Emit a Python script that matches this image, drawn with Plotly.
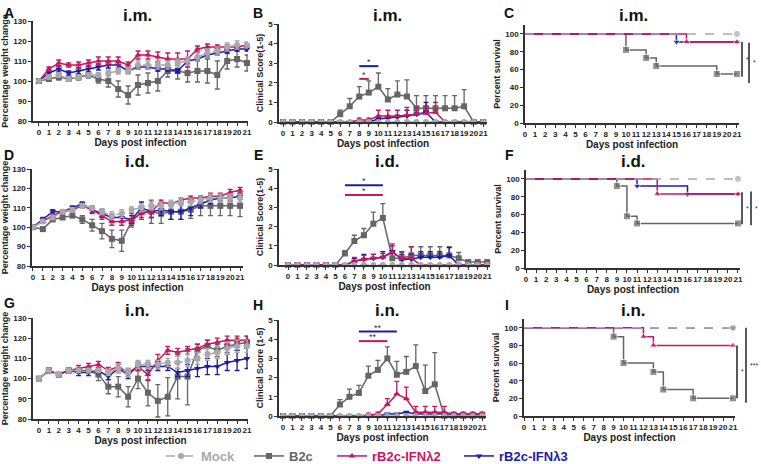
import plotly.graph_objects as go

W, H = 761, 464
FONT = "Liberation Sans"
days = list(range(22))

C_MOCK = "#a9a9ad"
C_B2C = "#656565"
C_L2 = "#c8175d"
C_L3 = "#1c1caa"

# ---------------- weight data (A: i.m., D: i.d., G: i.n.) ----------------
A_mock = [100, 102, 103, 101, 102, 103, 103, 104, 105, 105, 108, 108, 108, 108, 109, 110, 112, 114, 115, 117, 118, 118]
A_mock_err = [0, 1, 1, 1, 1, 1, 1, 1.5, 1.5, 1.5, 2, 2, 2, 2, 2, 2, 2, 2, 2, 2, 2, 1.5]
A_b2c = [100, 101, 102, 101, 102, 103, 101, 100, 96, 93, 98, 99, 100, 105, 105, 104, 105, 105, 103, 110, 111, 109]
A_b2c_err = [0, 1, 1.5, 1, 1.5, 1.5, 2, 3, 4, 4.5, 5, 5, 5, 3, 4, 4.5, 5.5, 6, 7, 4, 4, 4]
A_l2 = [100, 106, 109, 108, 108, 109, 110, 110, 110, 108, 113, 113, 112, 111, 111, 111, 116, 117, 117, 117, 117, 118]
A_l2_err = [0, 1, 1.5, 1, 1.5, 1.5, 2, 2, 2, 1.5, 2, 2, 2.5, 3, 3, 4, 1.5, 1.5, 1, 1, 1, 1]
A_l3 = [100, 104, 106, 104, 105, 106, 107, 108, 108, 105, 107, 107, 106, 106, 105, 110, 111, 113, 114, 115, 116, 116]
A_l3_err = [0, 1, 1.5, 1, 1.5, 1.5, 1.5, 1.5, 1.5, 1, 1, 1, 1, 1, 1, 1, 1, 1, 1, 1, 1, 1]

D_mock = [100, 103, 105, 108, 109, 111, 110, 108, 106, 107, 109, 110, 111, 111, 112, 113, 113, 114, 115, 115, 115, 115]
D_mock_err = [0, 1, 1, 1, 1, 1, 1, 1.5, 2, 2, 1.5, 2, 2, 2, 2, 2, 2, 2, 2, 2, 2, 2]
D_b2c = [100, 99, 104, 105, 106, 104, 101, 98, 94, 93, 103, 108, 108, 107, 108, 108, 109, 111, 111, 111, 111, 111]
D_b2c_err = [0, 1, 1, 1, 1, 2, 3, 4, 4.5, 5.5, 3, 3, 6, 5, 4, 4, 4.5, 5, 5, 5, 5, 5.5]
D_l2 = [100, 103, 106, 108, 109, 111, 109, 106, 103, 103, 104, 107, 108, 113, 112, 114, 115, 115, 116, 116, 118, 119]
D_l2_err = [0, 1, 1, 1, 1, 1, 2, 2, 2, 2, 3, 3, 3, 1, 1, 1, 1, 1, 1.5, 1.5, 1.5, 1.5]
D_l3 = [100, 104, 108, 108, 110, 112, 109, 107, 105, 105, 104, 110, 108, 109, 108, 108, 110, 112, 114, 115, 115, 116]
D_l3_err = [0, 1, 1, 1, 1, 1, 1.5, 2, 2, 2, 2, 3, 3, 3, 4, 4, 4, 2, 2, 1.5, 1.5, 1.5]

G_mock = [100, 104, 102, 104, 104, 104, 104, 103, 105, 103, 107, 107, 107, 108, 108, 109, 110, 112, 113, 115, 116, 116]
G_mock_err = [0, 1, 1, 1, 1, 1, 1, 1.5, 2, 2, 2, 2, 2, 2, 3, 3, 3, 3, 3, 3, 3, 3]
G_b2c = [100, 104, 102, 104, 104, 104, 102, 96, 96, 91, 100, 93, 89, 91, 101, 101, 114, 116, 114, 116, 117, 118]
G_b2c_err = [0, 1, 1, 1, 1, 1, 3, 3.5, 5, 5, 5, 6.5, 8, 9.5, 11, 14, 3, 3, 3, 3, 3, 3]
G_l2 = [100, 104, 102, 104, 105, 106, 107, 104, 106, 103, 106, 102, 109, 114, 113, 114, 115, 117, 118, 119, 119, 119]
G_l2_err = [0, 1, 1, 1, 1.5, 1.5, 1.5, 1.5, 2, 2, 2, 3, 3, 2, 2, 2, 2, 2, 2, 2, 2, 2]
G_l3 = [100, 104, 102, 104, 103, 103, 104, 101, 105, 102, 106, 106, 106, 106, 103, 104, 105, 106, 106, 108, 109, 110]
G_l3_err = [0, 1, 1, 1, 1.5, 1.5, 1.5, 1.5, 2, 2, 2, 2, 2, 2, 2, 3, 4, 4, 4, 4, 5, 5]

# ---------------- clinical score data (B, E, H) ----------------
B_mock = [0] * 22
B_b2c = [0, 0, 0, 0, 0, 0, 0.4, 0.8, 1.3, 1.5, 1.8, 1.15, 1.4, 1.3, 0.7, 0.7, 0.7, 0.7, 0.7, 0.8, 0, 0]
B_b2c_err = [0, 0, 0, 0, 0, 0, 0.2, 0.4, 0.5, 0.6, 0.7, 0.55, 0.7, 0.85, 0.65, 0.65, 0.65, 0.65, 0.65, 0.85, 0, 0]
B_l2 = [0, 0, 0, 0, 0, 0, 0, 0, 0.1, 0.1, 0.3, 0.3, 0.3, 0.35, 0.4, 0.45, 0.5, 0, 0, 0, 0, 0]
B_l2_err = [0, 0, 0, 0, 0, 0, 0, 0, 0.1, 0.1, 0.3, 0.3, 0.3, 0.4, 0.35, 0.35, 0.5, 0, 0, 0, 0, 0]
B_l3 = [0, 0, 0, 0, 0, 0, 0, 0, 0, 0, 0.15, 0.2, 0.25, 0.3, 0.4, 0.5, 0, 0, 0, 0, 0, 0]
B_l3_err = [0, 0, 0, 0, 0, 0, 0, 0, 0, 0, 0.1, 0.1, 0.1, 0.3, 0.1, 0.5, 0, 0, 0, 0, 0, 0]

E_mock = [0] * 22
E_b2c = [0, 0, 0, 0, 0, 0, 0.6, 1.25, 1.55, 2.15, 2.45, 0.35, 0.35, 0.5, 0.5, 0.5, 0.5, 0.5, 0.35, 0.15, 0.15, 0.15]
E_b2c_err = [0, 0, 0, 0, 0, 0, 0.15, 0.3, 0.35, 0.6, 0.75, 0.3, 0.3, 0.45, 0.45, 0.45, 0.45, 0.45, 0.3, 0.1, 0.1, 0.1]
E_l2 = [0, 0, 0, 0, 0, 0, 0, 0.2, 0.3, 0.35, 0.4, 0.65, 0.35, 0.35, 0, 0, 0, 0, 0, 0, 0, 0]
E_l2_err = [0, 0, 0, 0, 0, 0, 0, 0.2, 0.2, 0.2, 0.2, 0.45, 0.35, 0.6, 0, 0, 0, 0, 0, 0, 0, 0]
E_l3 = [0, 0, 0, 0, 0, 0, 0, 0.2, 0.3, 0.35, 0.4, 0.7, 0.3, 0.3, 0.4, 0.4, 0.4, 0.5, 0, 0, 0, 0]
E_l3_err = [0, 0, 0, 0, 0, 0, 0, 0.15, 0.25, 0.2, 0.3, 0.3, 0.25, 0.25, 0.3, 0.3, 0.3, 0.4, 0, 0, 0, 0]

H_mock = [0] * 22
H_b2c = [0, 0, 0, 0, 0, 0, 0.6, 1.0, 1.2, 2.1, 2.4, 3.0, 2.15, 2.3, 2.6, 1.3, 1.65, 0, 0, 0, 0, 0]
H_b2c_err = [0, 0, 0, 0, 0, 0, 0.25, 0.4, 0.4, 0.5, 0.5, 0.6, 0.7, 0.8, 1.1, 1.35, 1.65, 0, 0, 0, 0, 0]
H_l2 = [0, 0, 0, 0, 0, 0, 0, 0, 0, 0.05, 0.1, 0.6, 1.15, 0.9, 0.2, 0.2, 0.2, 0.2, 0.1, 0.1, 0.1, 0.1]
H_l2_err = [0, 0, 0, 0, 0, 0, 0, 0, 0, 0.1, 0.1, 0.3, 0.65, 0.6, 0.3, 0.3, 0.3, 0.3, 0.1, 0.1, 0.1, 0.1]
H_l3 = [0, 0, 0, 0, 0, 0, 0, 0, 0, 0, 0, 0.1, 0.1, 0.2, 0.1, 0.1, 0.1, 0.1, 0.1, 0.1, 0.1, 0.1]
H_l3_err = [0] * 22

# ---------------- survival data (C, F, I): event days and % survival ----------------
C_mock_t, C_mock_s = [0, 21], [100, 100]
C_b2c_t, C_b2c_s = [0, 10, 12, 13, 19, 21], [100, 82, 73, 64, 55, 55]
C_l2_t, C_l2_s = [0, 16, 21], [100, 91, 91]
C_l3_t, C_l3_s = [0, 15, 21], [100, 91, 91]

F_mock_t, F_mock_s = [0, 21], [100, 100]
F_b2c_t, F_b2c_s = [0, 9, 10, 11, 21], [100, 92, 58, 50, 50]
F_l2_t, F_l2_s = [0, 13, 21], [100, 83, 83]
F_l3_t, F_l3_s = [0, 11, 16, 21], [100, 92, 83, 83]

I_mock_t, I_mock_s = [0, 21], [100, 100]
I_b2c_t, I_b2c_s = [0, 9, 10, 13, 14, 17, 21], [100, 90, 60, 50, 30, 20, 20]
I_l2_t, I_l2_s = [0, 12, 13, 21], [100, 90, 80, 80]
I_l3_t, I_l3_s = [0, 21], [100, 100]

routes = ["i.m.", "i.d.", "i.n."]
panel_letters = ["A", "B", "C", "D", "E", "F", "G", "H", "I"]
group_names = ["Mock", "B2c", "rB2c-IFNλ2", "rB2c-IFNλ3"]

# ---------------- layout geometry (pixels) ----------------
geom = {
    1: (33, 248, 21, 121, [-0.6, 21.1]),
    2: (279, 487, 24, 122, [-0.42, 21.4]),
    3: (525, 739, 25, 123, [0, 21.2]),
    4: (32, 243, 169, 266, [-0.1, 21.3]),
    5: (279, 490, 169, 265, [-0.95, 21.3]),
    6: (526, 740, 170, 268, [0, 21.2]),
    7: (33, 248, 318, 419, [-0.6, 21.1]),
    8: (279, 486, 320, 416, [-0.42, 21.4]),
    9: (524, 735, 319, 416, [0, 21.2]),
}

fig = go.Figure()

colors = [C_MOCK, C_B2C, C_L2, C_L3]
symbols = ["circle", "square", "triangle-up", "triangle-down"]
legend_ids = ["legend", "legend2", "legend3", "legend4"]


def ax(i):
    return ("x" if i == 1 else f"x{i}"), ("y" if i == 1 else f"y{i}")


def add_series(i, x, y, err, gi, sym_err, first, size=6):
    xa, ya = ax(i)
    e = None
    if err is not None:
        if sym_err:
            e = dict(type="data", array=err, visible=True, color=colors[gi], thickness=1.3, width=2.5)
        else:
            e = dict(type="data", array=err, arrayminus=[0] * len(err), symmetric=False,
                     visible=True, color=colors[gi], thickness=1.3, width=2.5)
    fig.add_trace(go.Scatter(
        x=x, y=y, mode="lines+markers", name=group_names[gi],
        line=dict(color=colors[gi], width=1.5, dash="dash" if gi == 0 else "solid"),
        marker=dict(symbol=symbols[gi], size=size, color=colors[gi]),
        error_y=e, xaxis=xa, yaxis=ya, cliponaxis=False,
        showlegend=first, legend=legend_ids[gi],
    ))


weight = [
    (1, [A_mock, A_b2c, A_l2, A_l3], [A_mock_err, A_b2c_err, A_l2_err, A_l3_err]),
    (4, [D_mock, D_b2c, D_l2, D_l3], [D_mock_err, D_b2c_err, D_l2_err, D_l3_err]),
    (7, [G_mock, G_b2c, G_l2, G_l3], [G_mock_err, G_b2c_err, G_l2_err, G_l3_err]),
]
clin = [
    (2, [B_mock, B_b2c, B_l2, B_l3], [None, B_b2c_err, B_l2_err, B_l3_err]),
    (5, [E_mock, E_b2c, E_l2, E_l3], [None, E_b2c_err, E_l2_err, E_l3_err]),
    (8, [H_mock, H_b2c, H_l2, H_l3], [None, H_b2c_err, H_l2_err, H_l3_err]),
]
surv = [
    (3, [(C_mock_t, C_mock_s), (C_b2c_t, C_b2c_s), (C_l2_t, C_l2_s), (C_l3_t, C_l3_s)]),
    (6, [(F_mock_t, F_mock_s), (F_b2c_t, F_b2c_s), (F_l2_t, F_l2_s), (F_l3_t, F_l3_s)]),
    (9, [(I_mock_t, I_mock_s), (I_b2c_t, I_b2c_s), (I_l2_t, I_l2_s), (I_l3_t, I_l3_s)]),
]

draw_order = [1, 3, 2, 0]
first = True
for i, series, errs in weight:
    for gi in draw_order:
        add_series(i, days, series[gi], errs[gi], gi, True, first)
    first = False
for i, series, errs in clin:
    for gi in draw_order:
        add_series(i, days, series[gi], errs[gi], gi, False, False)
for i, series in surv:
    for gi in draw_order:
        t, s = series[gi]
        xa, ya = ax(i)
        sizes = [0] + [7] * (len(t) - 1)
        fig.add_trace(go.Scatter(
            x=t, y=s, mode="lines+markers", line_shape="hv",
            line=dict(color=colors[gi], width=1.5, dash="dash" if gi == 0 or (i == 9 and gi == 3) else "solid"),
            marker=dict(symbol=symbols[gi], size=sizes, color=colors[gi]),
            xaxis=xa, yaxis=ya, cliponaxis=False, showlegend=False,
        ))

# ---------------- axes ----------------
axis_common = dict(showline=True, linecolor="#333333", linewidth=1.5, ticks="outside",
                   ticklen=3, tickwidth=1.2, tickcolor="#333333", showgrid=False, zeroline=False,
                   automargin=False,
                   tickfont=dict(family=FONT, size=8, color="#222222", weight="bold"))
layout = {}
for i, (x0, x1, y0, y1, xr) in geom.items():
    xk = "xaxis" if i == 1 else f"xaxis{i}"
    yk = "yaxis" if i == 1 else f"yaxis{i}"
    xa, ya = ax(i)
    col = (i - 1) % 3
    if col == 0:
        yr, yt, ytitle = [80, 130], [80, 90, 100, 110, 120, 130], "Percentage weight change"
    elif col == 1:
        yr, yt = [0, 5], [0, 1, 2, 3, 4, 5]
        ytitle = "Clinical Score (1-5)" if i == 8 else "Clinical Score(1-5)"
    else:
        yr, yt, ytitle = [0, 110], [0, 20, 40, 60, 80, 100], "Percent survival"
    layout[xk] = dict(axis_common, domain=[x0 / W, x1 / W], range=xr, anchor=ya,
                      tickvals=days, ticktext=[str(d) for d in days], tickangle=0,
                      title=dict(text="Days post infection", standoff=3,
                                 font=dict(family=FONT, size=10, color="#222222", weight="bold")))
    layout[yk] = dict(axis_common, domain=[1 - y1 / H, 1 - y0 / H], range=yr, anchor=xa,
                      tickvals=yt,
                      title=dict(text=ytitle, standoff=3,
                                 font=dict(family=FONT, size=9, color="#222222", weight="bold")))
fig.update_layout(**layout)

# ---------------- titles and letters ----------------
ann = []
title_pos = [(137, 16), (387, 16), (633, 16), (137, 161), (387, 161), (633, 161), (137, 310), (387, 310), (633, 310)]
letter_pos = [(9, 13), (258, 13), (509, 13), (9, 155), (258, 155), (509, 155), (9, 303), (258, 305), (507, 305)]
for k in range(9):
    tx, ty = title_pos[k]
    ann.append(dict(x=tx / W, y=1 - ty / H, xref="paper", yref="paper", text=routes[k // 3],
                    showarrow=False, font=dict(family=FONT, size=17, color="#111111", weight="bold"),
                    xanchor="center", yanchor="middle"))
    lx, ly = letter_pos[k]
    ann.append(dict(x=lx / W, y=1 - ly / H, xref="paper", yref="paper", text=panel_letters[k],
                    showarrow=False, font=dict(family=FONT, size=14, color="#111111", weight="bold"),
                    xanchor="center", yanchor="middle"))

shapes = []
# clinical significance bars: (panel, x_start, x_end, y, color, label)
clin_sig = [
    (2, 8, 10, 2.85, C_L3, "*"), (2, 8, 9, 2.2, C_L2, "*"),
    (5, 6, 10, 4.15, C_L3, "*"), (5, 6, 10, 3.65, C_L2, "*"),
    (8, 8, 12, 4.4, C_L3, "**"), (8, 8, 11, 3.9, C_L2, "**"),
]
for i, xs, xe, yv, c, lab in clin_sig:
    xa, ya = ax(i)
    shapes.append(dict(type="line", xref=xa, yref=ya, x0=xs, x1=xe, y0=yv, y1=yv,
                       line=dict(color=c, width=2)))
    ann.append(dict(x=(xs + xe) / 2, y=yv, xref=xa, yref=ya, text=lab, showarrow=False,
                    yanchor="bottom", yshift=-3, font=dict(family=FONT, size=9, color="#333333")))

# survival significance bars: (panel, x_pixel, y_top, y_bottom, label)
surv_sig = [
    (3, 742, 91, 52, "*"), (3, 749, 90, 45, "*"),
    (6, 742, 85, 49, "*"), (6, 751, 86, 48, "*"),
    (9, 737, 80, 20, "*"), (9, 746, 100, 15, "***"),
]
for i, xp, yt_, yb_, lab in surv_sig:
    xa, ya = ax(i)
    shapes.append(dict(type="line", xref="paper", yref=ya, x0=xp / W, x1=xp / W, y0=yb_, y1=yt_,
                       line=dict(color="#222222", width=1.5)))
    ann.append(dict(x=(xp + 2) / W, y=(yt_ + yb_) / 2, xref="paper", yref=ya, text=lab,
                    showarrow=False, xanchor="left", yanchor="middle",
                    font=dict(family=FONT, size=7, color="#333333")))

fig.update_layout(annotations=ann, shapes=shapes)

# ---------------- legends ----------------
leg_x = [161, 249, 332, 459]
for gi, lid in enumerate(legend_ids):
    fig.update_layout(**{lid: dict(x=leg_x[gi] / W, y=1 - 456 / H, xanchor="left", yanchor="middle",
                                   orientation="h", bgcolor="rgba(0,0,0,0)",
                                   font=dict(family=FONT, size=13, color=colors[gi], weight="bold"),
                                   itemwidth=30)})

fig.update_layout(width=W, height=H, margin=dict(l=0, r=0, t=0, b=0, autoexpand=False),
                  paper_bgcolor="white", plot_bgcolor="white", showlegend=True)

fig.write_html("out.html", config={"displayModeBar": False},
               post_script="document.body.style.margin='0';document.body.style.overflow='hidden';")
